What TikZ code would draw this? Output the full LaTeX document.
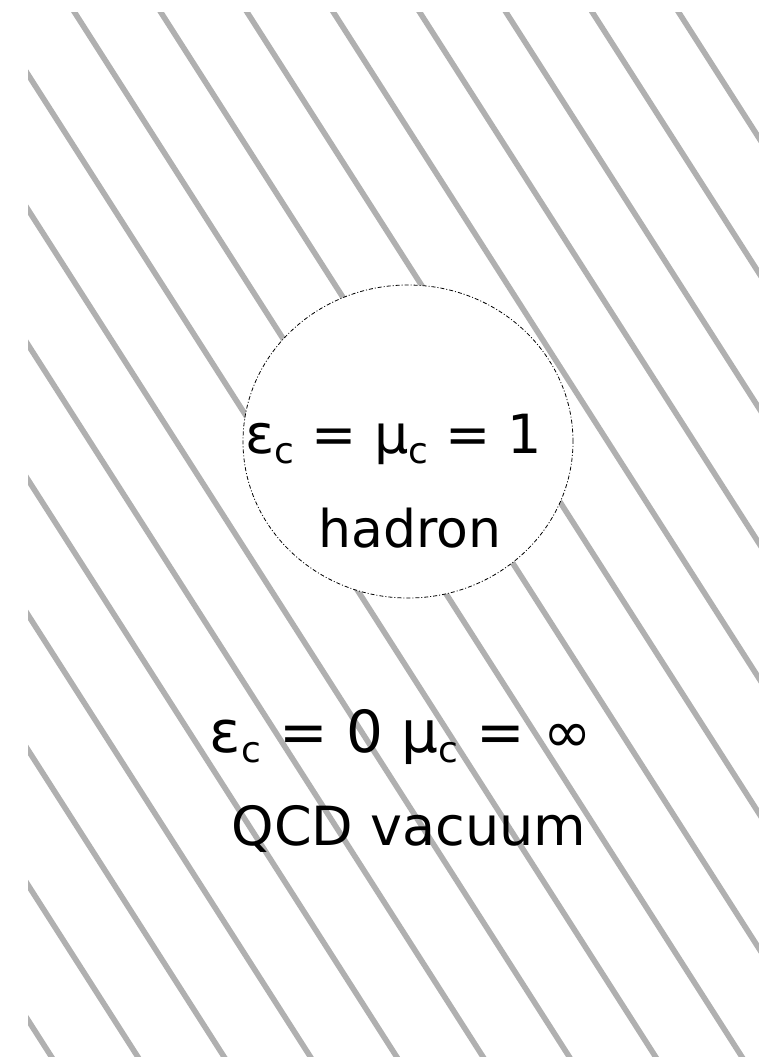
\documentclass[tikz,border=0pt]{standalone}
\usepackage{fontspec}
\setmainfont{DejaVu Sans}
\usetikzlibrary{shapes.geometric}

% lowered small index letter
\newcommand{\idx}[1]{\raisebox{-10pt}{\fontsize{36}{36}\selectfont #1}}

\begin{document}
\begin{tikzpicture}[x=1pt, y=-1pt, font=\fontsize{54}{60}\selectfont]

  \colorlet{hatchGray}{black!31}   % the vacuum stripes

  \tikzset{
    stripe/.style={hatchGray, line width=5.6pt},
    bag/.style={ellipse, draw=black, fill=white, line width=0.8pt,
      dash pattern=on 4pt off 2pt on 1pt off 2pt,
      minimum width=330pt, minimum height=313pt, inner sep=0pt},
    label/.style={anchor=base, inner sep=0pt}
  }

  \useasboundingbox (0,0) rectangle (759,1057);

  % striped vacuum
  \begin{scope}
    \clip (28,13) rectangle (759,1057);
    \foreach \k in {-8,...,8}
      \draw[stripe] (75+86.3*\k-66.7, 13-104.4) -- (742+86.3*\k+66.7, 1057+104.4);
  \end{scope}

  % the hadron bag
  \node[bag] (hadron) at (408,441.5) {};

  % texts
  \node[label] (inside) at (394,453) {ε\idx{c} = μ\idx{c} = 1};
  \node[label, font=\fontsize{52}{60}\selectfont] (hname) at (410,547) {hadron};
  \node[label, font=\fontsize{58}{64}\selectfont] (outside) at (401,752)
    {ε\idx{c} = 0 μ\idx{c} = ∞};
  \node[label] (vname) at (409,845) {QCD vacuum};

\end{tikzpicture}
\end{document}
